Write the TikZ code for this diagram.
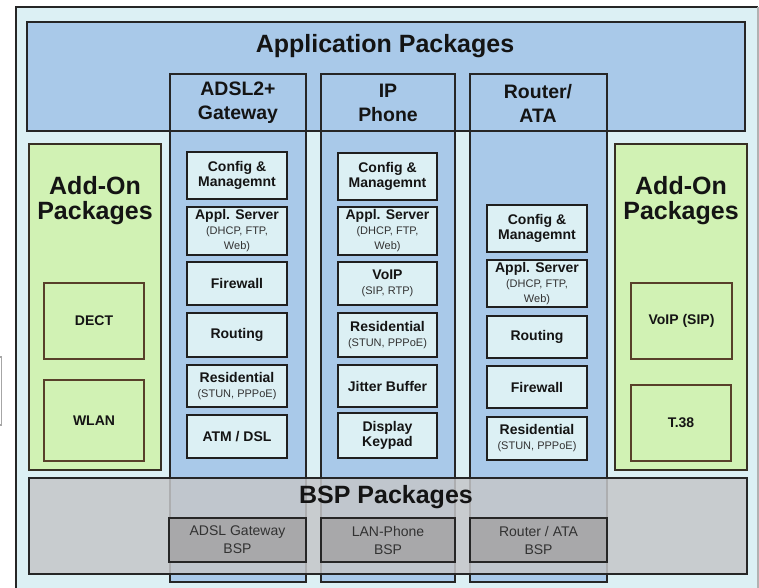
\documentclass[tikz,border=0pt]{standalone}
\usepackage{fontspec}
\setmainfont{Liberation Sans}
\usetikzlibrary{fit}

\definecolor{outerbg}{RGB}{220,240,244}
\definecolor{appblue}{RGB}{169,201,233}
\definecolor{addgreen}{RGB}{209,242,180}
\definecolor{addedge}{RGB}{55,48,36}
\definecolor{subedge}{RGB}{88,64,42}
\definecolor{innerbg}{RGB}{220,240,244}
\definecolor{bspgray}{RGB}{197,198,201}
\definecolor{bspsub}{RGB}{168,168,170}
\definecolor{inktext}{RGB}{20,20,20}
\definecolor{softtext}{RGB}{50,50,50}

\newcommand{\smalltxt}{\mdseries\fontsize{8.25pt}{11.25pt}\selectfont\color{softtext}}

\begin{document}
\begin{tikzpicture}[x=0.75pt,y=-0.75pt,
  boxed/.style={inner sep=0pt, outer sep=0pt},
  colbox/.style={boxed, fill=appblue, draw=black!85, line width=1.3pt},
  ibox/.style={boxed, fill=innerbg, draw=black!88, line width=1.3pt, align=center,
    text=inktext, font=\bfseries\fontsize{10.5pt}{11.25pt}\selectfont},
  addbox/.style={boxed, fill=addgreen, draw=addedge, line width=1.3pt},
  addsub/.style={boxed, fill=addgreen, draw=subedge, line width=1.5pt},
  addlabel/.style={text=inktext, font=\bfseries\fontsize{10.5pt}{11.25pt}\selectfont},
  bspbox/.style={boxed, fill=bspsub, draw=black!85, line width=1.3pt},
  bsplabel/.style={text=softtext, align=center, font=\fontsize{10.5pt}{13.5pt}\selectfont},
  bigtitle/.style={font=\bfseries\fontsize{18.75pt}{20pt}\selectfont, text=inktext, inner sep=0pt},
  coltitle/.style={font=\bfseries\fontsize{14.6pt}{18pt}\selectfont, text=inktext, align=center, inner sep=0pt},
  addtitle/.style={font=\bfseries\fontsize{18.75pt}{18.75pt}\selectfont, text=inktext, align=center, inner sep=0pt},
]
\useasboundingbox (0,0) rectangle (759,587);
\fill[white] (0,0) rectangle (759,587);
\clip (0,0) rectangle (759,587);

% small bracket at the left margin
\draw[gray!70, line width=1pt] (0,357) -- (1.5,357) -- (1.5,425) -- (0,425);

% outer frame
\fill[outerbg] (16,7) rectangle (758,600);
\draw[black!85, line width=1.3pt] (16,600) -- (16,7) -- (758,7);
\draw[gray!60, line width=0.8pt] (758,7) -- (758,600);

% application packages area (fill first, border after the columns)
\node[boxed, fill=appblue, fit={(27,22) (745,131)}] (app) {};

% product columns
\node[colbox, fit={(170,74) (306,582)}] (colA) {};
\node[colbox, fit={(321,74) (455,582)}] (colB) {};
\node[colbox, fit={(470,74) (607,582)}] (colC) {};

\draw[black!85, line width=1.3pt] (app.north west) rectangle (app.south east);
\node[bigtitle, anchor=base] (apptitle) at (385,52) {Application Packages};

\node[coltitle] (tA) at (238,103) {ADSL2+\\Gateway};
\node[coltitle] (tB) at (388,103) {IP\\Phone};
\node[coltitle] (tC) at (538,103) {Router/\\ATA};

% add-on packages, left
\node[addbox, fit={(29,144) (161,470)}] (addL) {};
\node[addtitle] (addLt) at (95,201) {Add-On\\Packages};
\node[addsub, fit={(44,283) (144,359)}] (dect) {};
\node[addlabel] (dectl) at (dect.center) {DECT};
\node[addsub, fit={(44,380) (144,461)}] (wlan) {};
\node[addlabel] (wlanl) at (wlan.center) {WLAN};

% add-on packages, right
\node[addbox, fit={(615,144) (747,470)}] (addR) {};
\node[addtitle] (addRt) at (681,201) {Add-On\\Packages};
\node[addsub, fit={(631,283) (732,359)}] (voipsip) {};
\node[addlabel] (voipsipl) at (voipsip.center) {VoIP (SIP)};
\node[addsub, fit={(631,385) (731,461)}] (t38) {};
\node[addlabel] (t38l) at (t38.center) {T.38};

% ADSL2+ gateway stack
\node[ibox, minimum width=75pt, minimum height=35.25pt] (a1) at (237,175.5) {Config \&\\Managemnt};
\node[ibox, minimum width=75pt, minimum height=36pt] (a2) at (237,231) {Appl. Server\\\smalltxt (DHCP, FTP,\\\smalltxt Web)};
\node[ibox, minimum width=75pt, minimum height=32.25pt] (a3) at (237,283.5) {Firewall};
\node[ibox, minimum width=75pt, minimum height=33pt] (a4) at (237,335) {Routing};
\node[ibox, minimum width=75pt, minimum height=31.5pt] (a5) at (237,386) {Residential\\\smalltxt (STUN, PPPoE)};
\node[ibox, minimum width=75pt, minimum height=32.25pt] (a6) at (237,436.5) {ATM / DSL};

% IP phone stack
\node[ibox, minimum width=74.25pt, minimum height=35.25pt] (p1) at (387.5,176.5) {Config \&\\Managemnt};
\node[ibox, minimum width=74.25pt, minimum height=36pt] (p2) at (387.5,231) {Appl. Server\\\smalltxt (DHCP, FTP,\\\smalltxt Web)};
\node[ibox, minimum width=74.25pt, minimum height=32.25pt] (p3) at (387.5,283.5) {VoIP\\\smalltxt (SIP, RTP)};
\node[ibox, minimum width=74.25pt, minimum height=33pt] (p4) at (387.5,335) {Residential\\\smalltxt (STUN, PPPoE)};
\node[ibox, minimum width=74.25pt, minimum height=31.5pt] (p5) at (387.5,386) {Jitter Buffer};
\node[ibox, minimum width=74.25pt, minimum height=33.75pt] (p6) at (387.5,435.5) {Display\\Keypad};

% router / ATA stack
\node[ibox, minimum width=75pt, minimum height=35.25pt] (r1) at (537,228.5) {Config \&\\Managemnt};
\node[ibox, minimum width=75pt, minimum height=35.25pt] (r2) at (537,283.5) {Appl. Server\\\smalltxt (DHCP, FTP,\\\smalltxt Web)};
\node[ibox, minimum width=75pt, minimum height=31.5pt] (r3) at (537,337) {Routing};
\node[ibox, minimum width=75pt, minimum height=31.5pt] (r4) at (537,387) {Firewall};
\node[ibox, minimum width=75pt, minimum height=32.25pt] (r5) at (537,438.5) {Residential\\\smalltxt (STUN, PPPoE)};

% board support packages, laid over the columns
\node[boxed, fill=bspgray, fill opacity=0.85, draw=black!85, draw opacity=1, line width=1.3pt,
      fit={(29,478) (747,574)}] (bsp) {};
\node[bigtitle, anchor=base] (bsptitle) at (386,503) {BSP Packages};
\node[bspbox, fit={(169,518) (306,562)}] (bA) {};
\node[bsplabel] (bAl) at (bA.center) {ADSL Gateway\\BSP};
\node[bspbox, fit={(321,518) (455,562)}] (bB) {};
\node[bsplabel] (bBl) at (bB.center) {LAN-Phone\\BSP};
\node[bspbox, fit={(470,518) (607,562)}] (bC) {};
\node[bsplabel] (bCl) at (bC.center) {Router / ATA\\BSP};
\end{tikzpicture}
\end{document}
